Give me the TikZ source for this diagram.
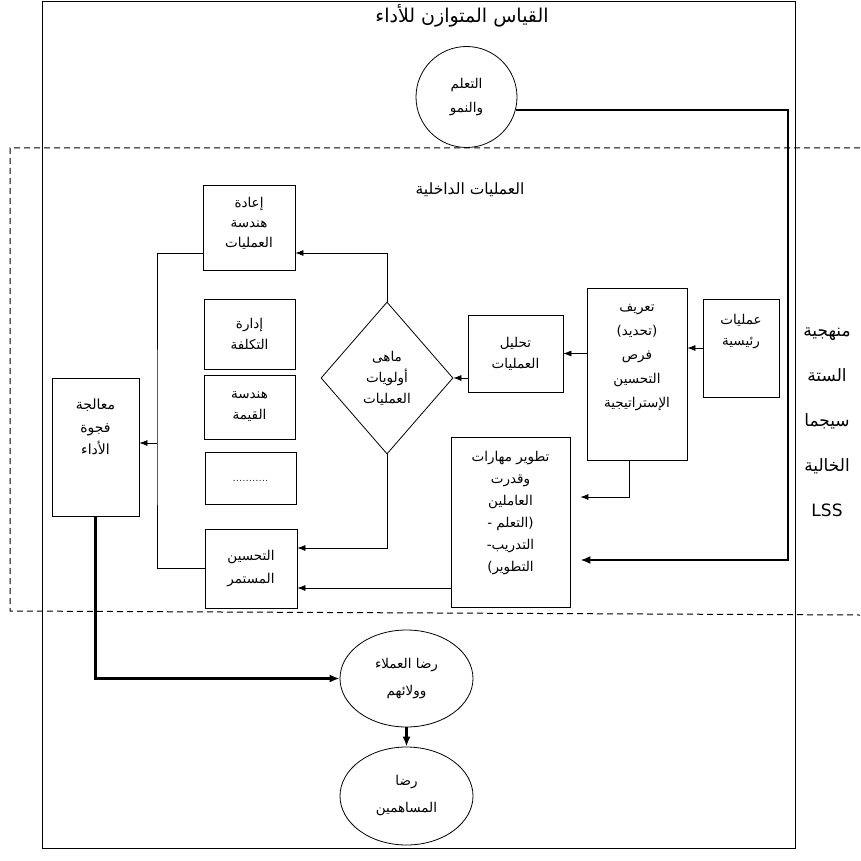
\documentclass[tikz,border=0pt]{standalone}
\usepackage{fontspec}
\usetikzlibrary{shapes.geometric,arrows.meta,calc}
\TeXXeTstate=1
\newfontfamily\arabicfont[Script=Arabic]{DejaVu Sans}
\begin{document}
\begin{tikzpicture}[x=1pt,y=-1pt,
  box/.style={draw, line width=0.8pt, inner sep=0pt},
  lbl/.style={anchor=center, align=center, font=\arabicfont\fontsize{13.5}{21}\selectfont, inner sep=0pt},
  txt/.style={align=center, font=\arabicfont\fontsize{13.5}{21}\selectfont, inner sep=0pt},
  arr/.style={line width=0.7pt, -{Latex[length=8pt,width=6pt]}},
  thk/.style={line width=2.6pt, -{Latex[length=10pt,width=8pt]}},
  dsh/.style={line width=1pt, dash pattern=on 6pt off 4pt},
]
\useasboundingbox (0,0) rectangle (860,861);
\fill[white] (0,0) rectangle (860,861);
% outer frame
\draw[line width=0.8pt] (42,1.5) rectangle (795,848);
% dashed internal-processes frame
\draw[dsh] (860,148) -- (10,148) -- (10,611) -- (860,615);

\node[txt, font=\arabicfont\fontsize{19}{22}\selectfont] (title) at (462,16) {\beginR القياس المتوازن للأداء\endR};
\node[txt, font=\arabicfont\fontsize{15.5}{18}\selectfont] (inner) at (470,190) {\beginR العمليات الداخلية\endR};

% right vertical label
\node[txt, font=\arabicfont\fontsize{17}{45}\selectfont] (lss) at (827,422)
  {\beginR منهجية\endR\\\beginR الستة\endR\\\beginR سيجما\endR\\\beginR الخالية\endR\\LSS};

% nodes
\node[draw, circle, line width=0.8pt, minimum size=101pt, txt, font=\arabicfont\fontsize{13.5}{24}\selectfont] (learn) at (466.5,97)
  {\beginR التعلم\endR\\\beginR والنمو\endR};
\node[box, minimum width=76pt, minimum height=98pt,
  label={[lbl,yshift=16pt]center:{\beginR عمليات\endR\\\beginR رئيسية\endR}}] (core) at (741,348) {};
\node[box, minimum width=100pt, minimum height=172pt,
  label={[lbl,yshift=16pt,font=\arabicfont\fontsize{13.5}{24}\selectfont]center:{\beginR تعريف\endR\\\beginR (تحديد)\endR\\\beginR فرص\endR\\\beginR التحسين\endR\\\beginR الإستراتيجية\endR}}] (define) at (637,374) {};
\node[box, minimum width=95pt, minimum height=77pt,
  label={[lbl]center:{\beginR تحليل\endR\\\beginR العمليات\endR}}] (analyze) at (515.5,353.5) {};
\node[draw, diamond, line width=0.8pt, inner sep=0pt, shape aspect=0.87,
  minimum width=132pt, minimum height=152pt,
  label={[lbl]center:{\beginR ماهى\endR\\\beginR أولويات\endR\\\beginR العمليات\endR}}] (prio) at (387,378) {};
\node[box, minimum width=119pt, minimum height=170pt,
  label={[lbl,yshift=9pt,font=\arabicfont\fontsize{13.5}{22}\selectfont]center:{\beginR تطوير مهارات\endR\\\beginR وقدرت\endR\\\beginR العاملين\endR\\\beginR (التعلم -\endR\\\beginR التدريب-\endR\\\beginR التطوير)\endR}}] (tatweer) at (510.5,522) {};
\node[box, minimum width=92pt, minimum height=85pt,
  label={[lbl,yshift=4pt,font=\arabicfont\fontsize{13.5}{20}\selectfont]center:{\beginR إعادة\endR\\\beginR هندسة\endR\\\beginR العمليات\endR}}] (reeng) at (249,227.5) {};
\node[box, minimum width=91pt, minimum height=70pt,
  label={[lbl]center:{\beginR إدارة\endR\\\beginR التكلفة\endR}}] (cost) at (249.5,334) {};
\node[box, minimum width=91pt, minimum height=64pt,
  label={[lbl]center:{\beginR هندسة\endR\\\beginR القيمة\endR}}] (value) at (249.5,407) {};
\node[box, minimum width=91pt, minimum height=52pt,
  label={[lbl,yshift=-3pt,font=\fontsize{12}{14}\selectfont]center:{...........}}] (dots) at (250.5,478) {};
\node[box, minimum width=92pt, minimum height=79pt,
  label={[lbl,font=\arabicfont\fontsize{13.5}{23}\selectfont]center:{\beginR التحسين\endR\\\beginR المستمر\endR}}] (cont) at (251,568.5) {};
\node[box, minimum width=87pt, minimum height=138pt,
  label={[lbl,yshift=20pt,font=\arabicfont\fontsize{14}{22.5}\selectfont]center:{\beginR معالجة\endR\\\beginR فجوة\endR\\\beginR الأداء\endR}}] (gap) at (95.5,447) {};
\node[draw, ellipse, line width=0.8pt, inner sep=0pt, minimum width=133pt, minimum height=97pt,
  txt, font=\arabicfont\fontsize{13.5}{27}\selectfont] (sat1) at (406.5,678.5)
  {\beginR رضا العملاء\endR\\\beginR وولائهم\endR};
\node[draw, ellipse, line width=0.8pt, inner sep=0pt, minimum width=133pt, minimum height=98pt,
  txt, font=\arabicfont\fontsize{13.5}{27}\selectfont] (sat2) at (406.5,796)
  {\beginR رضا\endR\\\beginR المساهمين\endR};

% helper coordinates
\coordinate (c1) at (388,253);
\coordinate (c2) at (388,548);
\coordinate (c3) at (629,497);
\coordinate (c4) at (400,588);
\coordinate (c5) at (157,443);
\coordinate (c6) at (788,560);

% connectors
\draw[arr] (core.west) -- (core.west -| define.east);
\draw[arr] (define.west |- analyze.east) -- (analyze.east);
\draw[arr] (analyze.west |- prio.east) -- (prio.east);
\draw[arr] (prio.north) |- (reeng.east |- c1);
\draw[arr] (prio.south) |- (cont.east |- c2);
\draw[arr] (define.south -| c3) |- ([xshift=10pt]tatweer.east |- c3);
\draw[arr] (tatweer.west |- c4) -- (cont.east |- c4);
\draw[line width=0.7pt] (reeng.west |- c1) -| (c5) |- (cont.west);
\draw[arr] (c5) -- (c5 -| gap.east);
\draw[thk] (gap.south) |- (sat1.west);
\draw[thk] (sat1.south) -- (sat2.north);
\draw[thk] (learn.-15) -| (c6) -- ([xshift=10pt]c6 -| tatweer.east);
\end{tikzpicture}
\end{document}
